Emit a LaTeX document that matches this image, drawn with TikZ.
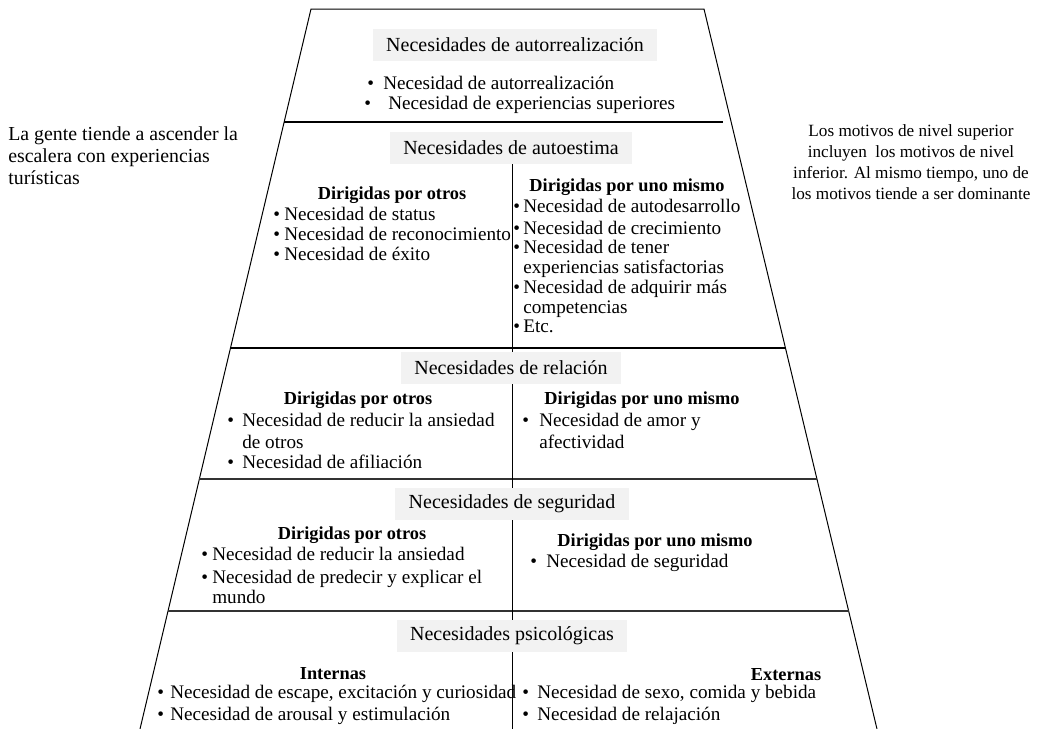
\documentclass[tikz,border=0pt]{standalone}
\usepackage{fontspec}
\setmainfont{Liberation Serif}
\definecolor{titlegray}{RGB}{242,242,242}
\newcommand\bul[1]{\makebox[#1][l]{•}}
\begin{document}
\begin{tikzpicture}[x=0.6pt,y=-0.6pt,
  body/.style={anchor=base west, inner sep=0pt, font=\fontsize{11.5}{13.5}\selectfont},
  head/.style={anchor=base, inner sep=0pt, font=\fontsize{11}{13}\selectfont\bfseries},
  title/.style={fill=titlegray, inner xsep=8pt, inner ysep=0pt, minimum height=19.5pt,
                font=\fontsize{12}{14}\selectfont},
  side/.style={line width=0.6pt},
  rule/.style={line width=1.2pt},
  lightrule/.style={line width=1pt, draw=black!80},
  note/.style={inner sep=0pt}]
\useasboundingbox (0,0) rectangle (1039,729);

% outline of the ladder
\coordinate (tl) at (311,9);
\coordinate (tr) at (704,9);
\coordinate (bl) at (140,729);
\coordinate (br) at (877,729);
\draw[side] (bl) -- (tl) -- (tr) -- (br);

% level separators
\coordinate (s1l) at (284,122);   \coordinate (s1r) at (723,122);
\coordinate (s2l) at (230.5,348); \coordinate (s2r) at (785.5,348);
\coordinate (s3l) at (199.4,479); \coordinate (s3r) at (817,479);
\coordinate (s4l) at (168,611);   \coordinate (s4r) at (848.6,611);
\draw[rule] (s1l) -- (s1r);
\draw[rule] (s2l) -- (s2r);
\draw[lightrule] (s3l) -- (s3r);
\draw[lightrule] (s4l) -- (s4r);

% column divider
\coordinate (dtop) at (512,163);
\coordinate (dbot) at (512,729);
\draw[side] (dtop) -- (dbot);

% level titles
\node[title] (t1) at (515,45)  {Necesidades de autorrealización};
\node[title] (t2) at (511,148) {Necesidades de autoestima};
\node[title] (t3) at (511,368) {Necesidades de relación};
\node[title] (t4) at (512,504) {Necesidades de seguridad};
\node[title] (t5) at (512,636) {Necesidades psicológicas};

% autorrealización
\node[body] (r1) at (367,89)  {\bul{9.6pt}Necesidad de autorrealización};
\node[body] (r2) at (364,109) {\bul{14.4pt}Necesidad de experiencias superiores};

% autoestima
\node[head] (eLh) at (392,199) {Dirigidas por otros};
\node[body] (eL1) at (273,220) {\bul{6.6pt}Necesidad de status};
\node[body] (eL2) at (273,240) {\bul{6.6pt}Necesidad de reconocimiento};
\node[body] (eL3) at (273,260) {\bul{6.6pt}Necesidad de éxito};
\node[head] (eRh) at (627,191) {Dirigidas por uno mismo};
\node[body] (eR1) at (513,212) {\bul{6pt}Necesidad de autodesarrollo};
\node[body] (eR2) at (513,234) {\bul{6pt}Necesidad de crecimiento};
\node[body] (eR3) at (513,253) {\bul{6pt}Necesidad de tener};
\node[body] (eR4) at (523,273) {experiencias satisfactorias};
\node[body] (eR5) at (513,293) {\bul{6pt}Necesidad de adquirir más};
\node[body] (eR6) at (523,313) {competencias};
\node[body] (eR7) at (513,332) {\bul{6pt}Etc.};

% relación
\node[head] (lLh) at (358,404) {Dirigidas por otros};
\node[body] (lL1) at (227,426) {\bul{9pt}Necesidad de reducir la ansiedad};
\node[body] (lL2) at (242,448) {de otros};
\node[body] (lL3) at (227,468) {\bul{9pt}Necesidad de afiliación};
\node[head] (lRh) at (642,404) {Dirigidas por uno mismo};
\node[body] (lR1) at (522,426) {\bul{10.2pt}Necesidad de amor y};
\node[body] (lR2) at (539,448) {afectividad};

% seguridad
\node[head] (gLh) at (352,539) {Dirigidas por otros};
\node[body] (gL1) at (201,560) {\bul{6.6pt}Necesidad de reducir la ansiedad};
\node[body] (gL2) at (201,583) {\bul{6.6pt}Necesidad de predecir y explicar el};
\node[body] (gL3) at (212,603) {mundo};
\node[head] (gRh) at (655,546) {Dirigidas por uno mismo};
\node[body] (gR1) at (530,567) {\bul{9.6pt}Necesidad de seguridad};

% psicológicas
\node[head] (pLh) at (333,679) {Internas};
\node[body] (pL1) at (157,698) {\bul{7.8pt}Necesidad de escape, excitación y curiosidad};
\node[body] (pL2) at (157,720) {\bul{7.8pt}Necesidad de arousal y estimulación};
\node[head] (pRh) at (786,680) {Externas};
\node[body] (pR1) at (522,698) {\bul{9pt}Necesidad de sexo, comida y bebida};
\node[body] (pR2) at (522,720) {\bul{9pt}Necesidad de relajación};

% side notes
\node[note, anchor=north west, align=left, font=\fontsize{11.9}{13.2}\selectfont] (nL) at (8,126)
  {La gente tiende a ascender la\\escalera con experiencias\\turísticas};
\node[note, anchor=north, align=center, font=\fontsize{10.3}{12.6}\selectfont] (nR) at (911,124)
  {Los motivos de nivel superior\\incluyen\ \ los motivos de nivel\\inferior. Al mismo tiempo, uno de\\los motivos tiende a ser dominante};
\end{tikzpicture}
\end{document}
